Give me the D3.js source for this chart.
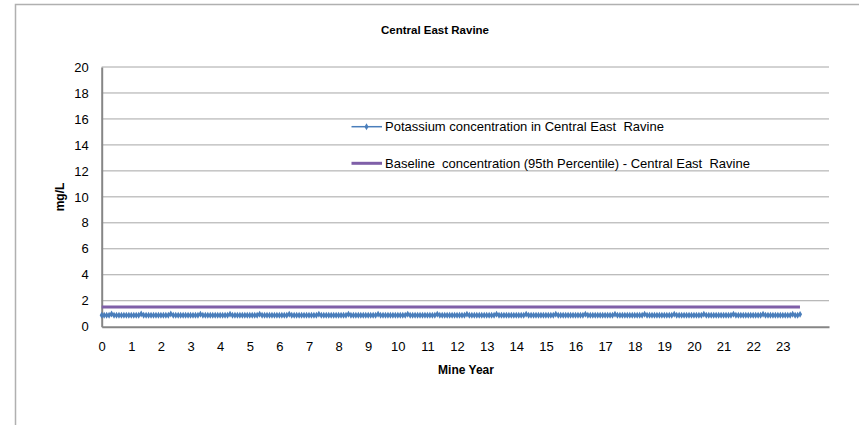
<!DOCTYPE html>
<html><head><meta charset="utf-8">
<script src="https://cdn.jsdelivr.net/npm/d3@7"></script>
<style>body{margin:0;background:#fff}svg{display:block;font-family:"Liberation Sans",Arial,sans-serif}</style>
</head><body><svg id="c" width="859" height="425"></svg>
<script>
const title = "Central East Ravine";
const xTickLabels = d3.range(0, 24);
const yTickLabels = [0, 2, 4, 6, 8, 10, 12, 14, 16, 18, 20];
const seriesNames = ["Potassium concentration in Central East  Ravine", "Baseline  concentration (95th Percentile) - Central East  Ravine"];
// monthly potassium values (mg/L), 12 per mine year
const potassium = [
0.88,0.88,0.88,0.89,0.98,0.89,0.88,0.88,0.88,0.88,0.88,0.88,
0.88,0.88,0.88,0.89,0.98,0.89,0.88,0.88,0.88,0.88,0.88,0.88,
0.88,0.88,0.88,0.89,0.98,0.89,0.88,0.88,0.88,0.88,0.88,0.88,
0.88,0.88,0.88,0.89,0.96,0.89,0.88,0.88,0.88,0.88,0.88,0.88,
0.88,0.88,0.88,0.89,0.96,0.89,0.88,0.88,0.88,0.88,0.88,0.88,
0.88,0.88,0.88,0.89,0.96,0.89,0.88,0.88,0.88,0.88,0.88,0.88,
0.88,0.88,0.88,0.89,0.96,0.89,0.88,0.88,0.88,0.88,0.88,0.88,
0.88,0.88,0.88,0.89,0.96,0.89,0.88,0.88,0.88,0.88,0.88,0.88,
0.88,0.88,0.88,0.89,0.96,0.89,0.88,0.88,0.88,0.88,0.88,0.88,
0.88,0.88,0.88,0.89,0.96,0.89,0.88,0.88,0.88,0.88,0.88,0.88,
0.88,0.88,0.88,0.89,0.96,0.89,0.88,0.88,0.88,0.88,0.88,0.88,
0.88,0.88,0.88,0.89,0.96,0.89,0.88,0.88,0.88,0.88,0.88,0.88,
0.88,0.88,0.88,0.89,0.96,0.89,0.88,0.88,0.88,0.88,0.88,0.88,
0.88,0.88,0.88,0.89,0.96,0.89,0.88,0.88,0.88,0.88,0.88,0.88,
0.88,0.88,0.88,0.89,0.96,0.89,0.88,0.88,0.88,0.88,0.88,0.88,
0.88,0.88,0.88,0.89,0.96,0.89,0.88,0.88,0.88,0.88,0.88,0.88,
0.88,0.88,0.88,0.89,0.96,0.89,0.88,0.88,0.88,0.88,0.88,0.88,
0.88,0.88,0.88,0.89,0.96,0.89,0.88,0.88,0.88,0.88,0.88,0.88,
0.88,0.88,0.88,0.89,0.96,0.89,0.88,0.88,0.88,0.88,0.88,0.88,
0.88,0.88,0.88,0.89,0.96,0.89,0.88,0.88,0.88,0.88,0.88,0.88,
0.88,0.88,0.88,0.89,0.96,0.89,0.88,0.88,0.88,0.88,0.88,0.88,
0.88,0.88,0.88,0.89,0.96,0.89,0.88,0.88,0.88,0.88,0.88,0.88,
0.88,0.88,0.88,0.89,0.96,0.89,0.88,0.88,0.88,0.88,0.88,0.88,
0.88,0.88,0.88,0.89,0.96,0.89,0.88,0.95
];
const baseline = [1.52, 1.52];
const baselineYears = [0, 23.58];

const svg = d3.select("#c");
const M = {l: 101.7, r: 829, t: 67, b: 326.7};
const x = d3.scaleLinear().domain([0, 24.56]).range([M.l, M.r]);
const y = d3.scaleLinear().domain([0, 20]).range([M.b, M.t]);

// outer chart border (partially visible)
svg.append("path").attr("d", "M15.5,430 V4.5 H870").attr("fill", "none").attr("stroke", "#b0b0b0").attr("stroke-width", 1.5);

// gridlines
svg.append("g").selectAll("line").data(yTickLabels.filter(d => d > 0)).join("line")
  .attr("x1", M.l).attr("x2", M.r).attr("y1", d => y(d)).attr("y2", d => y(d))
  .attr("stroke", "#a6a6a6").attr("stroke-width", 1);

// y axis
const yAxis = d3.axisLeft(y).tickValues(yTickLabels).tickSize(0).tickPadding(13);
const gy = svg.append("g").attr("transform", `translate(${M.l},0)`).call(yAxis);
gy.select(".domain").attr("stroke", "#868686").attr("stroke-width", 2);
gy.selectAll("text").attr("font-size", 13).attr("fill", "#000");

// x axis
const xAxis = d3.axisBottom(x).tickValues(xTickLabels).tickSize(0).tickPadding(15).tickFormat(d3.format("d"));
const gx = svg.append("g").attr("transform", `translate(0,${M.b})`).call(xAxis);
gx.select(".domain").attr("stroke", "#868686").attr("stroke-width", 2);
gx.selectAll("text").attr("font-size", 13).attr("fill", "#000");

// baseline
svg.append("path").datum(baselineYears.map((t, i) => [t, baseline[i]]))
  .attr("d", d3.line().x(d => x(d[0])).y(d => y(d[1])))
  .attr("fill", "none").attr("stroke", "#7f5fa8").attr("stroke-width", 3);

// potassium
const pdata = potassium.map((v, i) => [i / 12, v]);
svg.append("path").datum(pdata)
  .attr("d", d3.line().x(d => x(d[0])).y(d => y(d[1])))
  .attr("fill", "none").attr("stroke", "#4a7ebb").attr("stroke-width", 2);
svg.append("g").selectAll("path").data(pdata).join("path")
  .attr("transform", d => `translate(${x(d[0])},${y(d[1])})`)
  .attr("d", d3.symbol(d3.symbolDiamond, 14))
  .attr("fill", "#4a7ebb");

// legend
const lg = svg.append("g");
lg.append("line").attr("x1", 351.5).attr("x2", 382).attr("y1", 126.7).attr("y2", 126.7).attr("stroke", "#4a7ebb").attr("stroke-width", 1.5);
lg.append("path").attr("transform", "translate(366.5,126.7)").attr("d", d3.symbol(d3.symbolDiamond, 14)).attr("fill", "#4a7ebb");
lg.append("line").attr("x1", 351.5).attr("x2", 382).attr("y1", 163.3).attr("y2", 163.3).attr("stroke", "#7f5fa8").attr("stroke-width", 3);
lg.selectAll("text").data(seriesNames).join("text")
  .attr("x", 385).attr("y", (d, i) => i ? 163.3 : 126.7).attr("dy", "0.35em")
  .attr("font-size", 13).attr("fill", "#000").style("white-space", "pre").text(d => d);

// titles
svg.append("text").attr("x", 435).attr("y", 30).attr("dy", "0.35em").attr("text-anchor", "middle")
  .attr("font-size", 11.5).attr("font-weight", "bold").text(title);
svg.append("text").attr("x", 466).attr("y", 370).attr("dy", "0.35em").attr("text-anchor", "middle")
  .attr("font-size", 12).attr("font-weight", "bold").text("Mine Year");
svg.append("text").attr("transform", "translate(60,197) rotate(-90)").attr("dy", "0.35em").attr("text-anchor", "middle")
  .attr("font-size", 12).attr("font-weight", "bold").text("mg/L");
</script></body></html>
